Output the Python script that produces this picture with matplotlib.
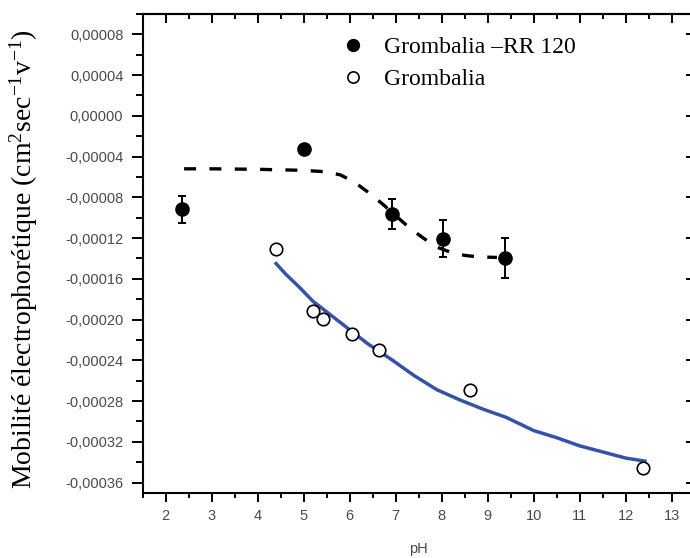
import numpy as np
import matplotlib
matplotlib.use("Agg")
import matplotlib.pyplot as plt
from matplotlib.ticker import MultipleLocator, FuncFormatter

# --- data ---
# Grombalia -RR 120 (filled, with error bars)
ph_rr = [2.35, 5.01, 6.91, 8.03, 9.38]
mob_rr = [-0.0000919, -0.0000323, -0.0000961, -0.0001206, -0.0001397]
err_rr = [0.0000135, 0.0, 0.0000147, 0.000018, 0.0000197]

# dashed trend curve for Grombalia -RR 120
ph_rr_fit = [2.4, 3.0, 4.0, 5.0, 5.5, 5.8, 6.1, 6.4, 6.7, 7.0, 7.3, 7.6, 7.9, 8.2, 8.5, 8.8, 9.2]
mob_rr_fit = [-5.2e-5, -5.2e-5, -5.25e-5, -5.35e-5, -5.5e-5, -5.8e-5, -6.5e-5, -7.5e-5,
              -8.6e-5, -9.8e-5, -11.0e-5, -12.0e-5, -12.9e-5, -13.4e-5, -13.7e-5,
              -13.85e-5, -13.9e-5]

# Grombalia (open circles)
ph_g = [4.39, 5.20, 5.41, 6.04, 6.64, 8.62, 12.38]
mob_g = [-0.0001305, -0.000192, -0.0001999, -0.0002146, -0.0002303, -0.000269, -0.0003459]

# blue fitted curve for Grombalia
ph_g_fit = [4.4, 4.6, 4.9, 5.2, 5.6, 6.0, 6.4, 6.9, 7.4, 7.9, 8.4, 8.9, 9.4,
            10.0, 10.5, 11.0, 11.5, 12.0, 12.42]
mob_g_fit = [-14.5e-5, -15.5e-5, -16.8e-5, -18.2e-5, -19.6e-5, -21.0e-5, -22.4e-5,
             -23.9e-5, -25.5e-5, -26.9e-5, -27.9e-5, -28.8e-5, -29.6e-5, -30.9e-5,
             -31.6e-5, -32.4e-5, -33.0e-5, -33.6e-5, -33.9e-5]

# --- styling ---
plt.rcParams['mathtext.fontset'] = 'custom'
plt.rcParams['mathtext.rm'] = 'Liberation Serif'
plt.rcParams['mathtext.it'] = 'Liberation Serif:italic'
plt.rcParams['mathtext.bf'] = 'Liberation Serif:bold'

tick_color = '#4a4a4a'
blue = '#3652a8'

fig = plt.figure(figsize=(6.9, 5.58), dpi=100)
W, H = 690.0, 558.0
left, right, top, bottom = 142.7, 694.7, 14.0, 492.7
ax = fig.add_axes([left / W, 1 - bottom / H, (right - left) / W, (bottom - top) / H])

ax.plot(ph_rr_fit, mob_rr_fit, color='black', lw=2.4, dashes=(3.6, 4.0), zorder=2)
ax.plot(ph_g_fit, mob_g_fit, color=blue, lw=2.5, zorder=2)

ax.errorbar(ph_rr, mob_rr, yerr=err_rr, fmt='none', ecolor='black', elinewidth=1.4,
            capsize=3.2, capthick=1.4, zorder=3)
ax.plot(ph_rr, mob_rr, 'o', color='black', ms=9.5, label=u'Grombalia \u2013RR 120', zorder=4)
ax.plot(ph_g, mob_g, 'o', mfc='white', mec='black', mew=1.2, ms=9, label='Grombalia', zorder=4)

ax.set_xlim(1.5, 13.5)
ax.set_ylim(-0.00037, 0.0001)

ax.xaxis.set_major_locator(MultipleLocator(1))
ax.xaxis.set_minor_locator(MultipleLocator(0.5))
ax.yaxis.set_major_locator(MultipleLocator(0.00004))
ax.yaxis.set_minor_locator(MultipleLocator(0.00002))
ax.yaxis.set_major_formatter(FuncFormatter(lambda v, p: ('%.5f' % v).replace('.', ',').replace('-0,00000', '0,00000')))

for s in ax.spines.values():
    s.set_linewidth(1.5)

ax.tick_params(axis='x', which='major', direction='out', length=6.5, width=1.4,
               labelsize=10.5, labelcolor=tick_color, pad=5)
ax.tick_params(axis='x', which='minor', direction='out', length=3.3, width=1.4)
ax.tick_params(axis='y', which='major', direction='out', length=8, width=1.4,
               labelsize=10.5, labelcolor=tick_color, pad=6)
ax.tick_params(axis='y', which='minor', direction='out', length=5, width=1.4)
for lab in ax.get_xticklabels() + ax.get_yticklabels():
    lab.set_family('Liberation Sans')

# top and right axes with inward ticks, no labels
secx = ax.secondary_xaxis('top')
secx.xaxis.set_major_locator(MultipleLocator(1))
secx.xaxis.set_minor_locator(MultipleLocator(0.5))
secx.tick_params(which='major', direction='in', length=6.5, width=1.4, labeltop=False)
secx.tick_params(which='minor', direction='in', length=3.3, width=1.4)
secy = ax.secondary_yaxis('right')
secy.yaxis.set_major_locator(MultipleLocator(0.00004))
secy.yaxis.set_minor_locator(MultipleLocator(0.00002))
secy.tick_params(which='major', direction='in', length=6.5, width=1.4, labelright=False)
secy.tick_params(which='minor', direction='in', length=3.3, width=1.4)
secx.spines['top'].set_linewidth(1.5)
secy.spines['right'].set_linewidth(1.5)

ax.set_xlabel('pH', family='Liberation Sans', fontsize=10.5, color=tick_color, labelpad=14)
ax.set_ylabel(u'Mobilit\u00e9 \u00e9lectrophor\u00e9tique (cm$^{2}$sec$^{-1}$v$^{-1}$)',
              family='Liberation Serif', fontsize=20)
ax.yaxis.set_label_coords(-0.186, 0.487)

leg = ax.legend(loc='upper left', bbox_to_anchor=(0.36, 0.953), frameon=False,
                prop={'family': 'Liberation Serif', 'size': 17}, handlelength=1.0,
                handletextpad=0.8, labelspacing=0.45, borderpad=0, borderaxespad=0,
                markerscale=0.9)

fig.savefig('out.png', dpi=100)
